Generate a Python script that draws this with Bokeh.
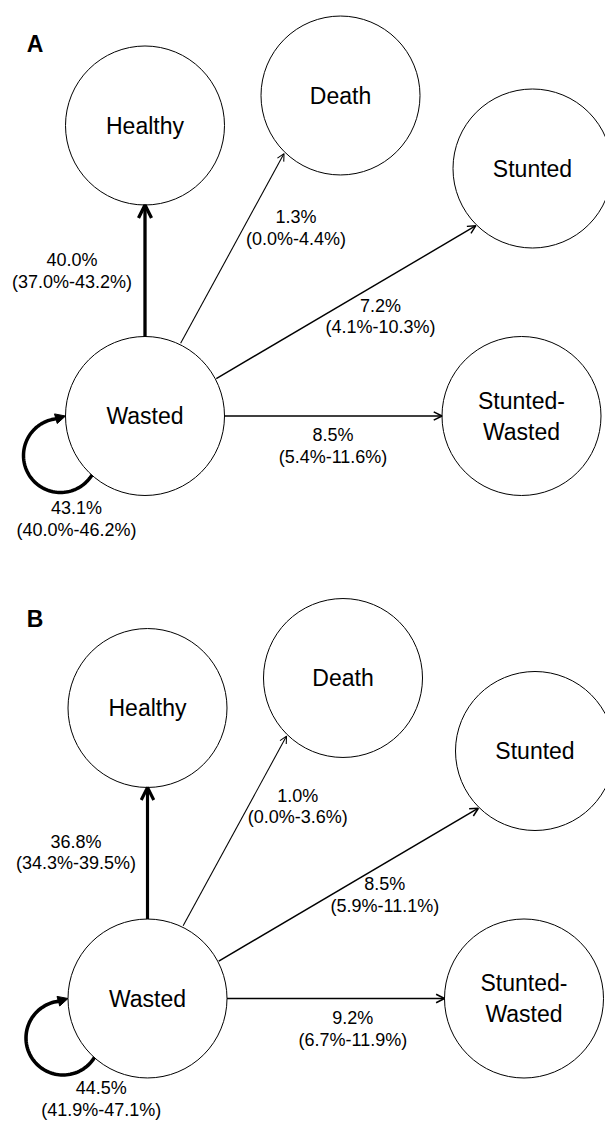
import numpy as np
from bokeh.plotting import figure
from bokeh.models import Range1d, Arrow, OpenHead, NormalHead
from bokeh.core.properties import value
from bokeh.embed import file_html
from bokeh.resources import INLINE

# ---------------- data ----------------
panels = ["A", "B"]
origin = "Wasted"
targets = ["Wasted", "Healthy", "Death", "Stunted", "Stunted-Wasted"]
a_pct = [43.1, 40.0, 1.3, 7.2, 8.5]
a_lo = [40.0, 37.0, 0.0, 4.1, 5.4]
a_hi = [46.2, 43.2, 4.4, 10.3, 11.6]
b_pct = [44.5, 36.8, 1.0, 8.5, 9.2]
b_lo = [41.9, 34.3, 0.0, 5.9, 6.7]
b_hi = [47.1, 39.5, 3.6, 11.1, 11.9]
values = {"A": (a_pct, a_lo, a_hi), "B": (b_pct, b_lo, b_hi)}

# ---------------- layout (reference pixel units) ----------------
R = 79.5
node_pos = {"Wasted": (144.5, 415.5), "Healthy": (144.5, 125.0), "Death": (340.0, 95.0),
            "Stunted": (532.0, 168.0), "Stunted-Wasted": (521.0, 415.5)}
node_lines = {"Stunted-Wasted": ["Stunted-", "Wasted"]}
attach = {"Healthy": (-90, 90, 0.0), "Death": (-63.9, 134.2, 1.5),
          "Stunted": (-27.7, 134.7, 1.0), "Stunted-Wasted": (0, 180, 0.0)}
panel_shift = {"A": (0.0, 0.0), "B": (2.5, 582.5)}
letter_pos = {"A": (34.5, 43.0), "B": (32.0, 35.5)}
label_pos = {
    "A": {"Wasted": (76.0, 518.5), "Healthy": (71.5, 270.5), "Death": (295.5, 227.5),
          "Stunted": (380.0, 316.0), "Stunted-Wasted": (332.5, 445.5)},
    "B": {"Wasted": (98.3, 516.0), "Healthy": (73.0, 269.5), "Death": (294.8, 223.3),
          "Stunted": (381.8, 312.0), "Stunted-Wasted": (349.8, 446.0)},
}
loop_center = (-84.5, 39.5)   # relative to origin node
loop_r = 37.0
loop_a0, loop_a1 = 32.0, 262.0

W, H = 605, 1121
FONT = value("Liberation Sans")
fs_node = "23px"
fs_lab = "18px"
fs_letter = "23px"

p = figure(width=W, height=H, x_range=Range1d(0, W), y_range=Range1d(H, 0),
           output_backend="svg", toolbar_location=None, min_border=0,
           x_axis_location=None, y_axis_location=None)
p.grid.visible = False
p.outline_line_color = None
p.background_fill_color = "white"
p.border_fill_color = "white"


def lw_of(v):
    return 1.0 + 0.058 * v


for pan in panels:
    dx, dy = panel_shift[pan]
    pct, lo, hi = values[pan]
    ox, oy = node_pos[origin][0] + dx, node_pos[origin][1] + dy

    # edges
    for i, t in enumerate(targets):
        v = pct[i]
        lw = lw_of(v)
        if t == origin:
            cx, cy = ox + loop_center[0], oy + loop_center[1]
            ang = np.radians(np.linspace(loop_a0, loop_a1, 80))
            xs = cx + loop_r * np.cos(ang)
            ys = cy + loop_r * np.sin(ang)
            p.line(xs, ys, line_width=lw, line_color="black", line_cap="round")
            p.add_layout(Arrow(end=NormalHead(size=10, fill_color="black", line_color="black", line_width=1),
                               x_start=xs[-1], y_start=ys[-1], x_end=ox - R, y_end=oy,
                               line_width=lw, line_color="black"))
        else:
            a0, a1, extra = attach[t]
            tx, ty = node_pos[t][0] + dx, node_pos[t][1] + dy
            xs0 = ox + (R + extra) * np.cos(np.radians(a0))
            ys0 = oy + (R + extra) * np.sin(np.radians(a0))
            xe = tx + (R + extra) * np.cos(np.radians(a1))
            ye = ty + (R + extra) * np.sin(np.radians(a1))
            p.add_layout(Arrow(end=OpenHead(size=7 + 0.15 * v, line_width=lw, line_color="black"),
                               x_start=xs0, y_start=ys0, x_end=xe, y_end=ye,
                               line_width=lw, line_color="black"))

    # nodes
    names = [origin] + [t for t in targets if t != origin]
    p.circle(x=[node_pos[n][0] + dx for n in names], y=[node_pos[n][1] + dy for n in names],
             radius=R, fill_color="white", line_color="black", line_width=1)
    tx_, ty_, tt_ = [], [], []
    for n in names:
        lines = node_lines.get(n, [n])
        k = len(lines)
        for j, s in enumerate(lines):
            tx_.append(node_pos[n][0] + dx)
            ty_.append(node_pos[n][1] + dy + (j - (k - 1) / 2) * 31.0)
            tt_.append(s)
    p.text(x=tx_, y=ty_, text=tt_, text_font=FONT, text_font_size=fs_node,
           text_align="center", text_baseline="middle", text_color="black")

    # edge labels
    lx, ly, lt = [], [], []
    for i, t in enumerate(targets):
        x, y = label_pos[pan][t]
        lx += [x + dx, x + dx]
        ly += [y + dy - 10.75, y + dy + 10.75]
        lt += [f"{pct[i]:.1f}%", f"({lo[i]:.1f}%-{hi[i]:.1f}%)"]
    p.text(x=lx, y=ly, text=lt, text_font=FONT, text_font_size=fs_lab,
           text_align="center", text_baseline="middle", text_color="black")

    # panel letter
    lpx, lpy = letter_pos[pan]
    p.text(x=[lpx + dx], y=[lpy + dy], text=[pan], text_font=FONT, text_font_size=fs_letter,
           text_font_style="bold", text_align="center", text_baseline="middle", text_color="black")

open("out.html", "w").write(file_html(p, INLINE))
